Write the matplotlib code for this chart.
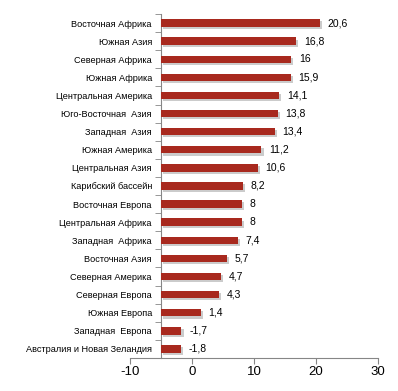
import matplotlib.pyplot as plt
import matplotlib.patheffects as pe
import numpy as np

# Регионы и значения (сверху вниз)
regions = ['Восточная Африка', 'Южная Азия', 'Северная Африка', 'Южная Африка',
           'Центральная Америка', 'Юго-Восточная  Азия', 'Западная  Азия',
           'Южная Америка', 'Центральная Азия', 'Карибский бассейн',
           'Восточная Европа', 'Центральная Африка', 'Западная  Африка',
           'Восточная Азия', 'Северная Америка', 'Северная Европа',
           'Южная Европа', 'Западная  Европа', 'Австралия и Новая Зеландия']
values = [20.6, 16.8, 16, 15.9, 14.1, 13.8, 13.4, 11.2, 10.6, 8.2,
          8, 8, 7.4, 5.7, 4.7, 4.3, 1.4, -1.7, -1.8]
labels = ['20,6', '16,8', '16', '15,9', '14,1', '13,8', '13,4', '11,2', '10,6', '8,2',
          '8', '8', '7,4', '5,7', '4,7', '4,3', '1,4', '-1,7', '-1,8']
base = -5  # ось пересекает на -5

plt.rcParams['font.family'] = ['Liberation Sans', 'DejaVu Sans']
plt.rcParams['axes.unicode_minus'] = False

fig = plt.figure(figsize=(3.98, 3.91), dpi=100)
ax = fig.add_axes([0.3266, 0.0844, 0.6231, 0.8798])

n = len(regions)
y = np.arange(n)
vals = np.array(values)
bars = ax.barh(y, vals - base, left=base, height=0.41, color='#A8291E', zorder=3)
for b in bars:
    b.set_path_effects([pe.SimplePatchShadow(offset=(1.5, -1.5), shadow_rgbFace='#999999', alpha=0.5),
                        pe.Normal()])

for yi, v, t in zip(y, vals, labels):
    ax.annotate(t, (v, yi), xytext=(5.5, 0), textcoords='offset points',
                va='center', ha='left', fontsize=7.5, color='black')

ax.set_ylim(n - 0.5, -0.5)
ax.set_xlim(-10, 30)
ax.set_xticks([-10, 0, 10, 20, 30])
ax.tick_params(axis='x', labelsize=9.5, length=4, color='#868686', pad=2)

ax.set_yticks(y)
ax.set_yticklabels(regions)
ax.set_yticks(np.arange(n + 1) - 0.5, minor=True)
ax.tick_params(axis='y', which='major', length=0, pad=6.5, labelsize=6.6)
ax.tick_params(axis='y', which='minor', length=4, color='#868686')

for s in ['top', 'right']:
    ax.spines[s].set_visible(False)
ax.spines['bottom'].set_color('#868686')
ax.spines['left'].set_color('#868686')
ax.spines['left'].set_position(('data', base))

fig.savefig('out.png', dpi=100)
